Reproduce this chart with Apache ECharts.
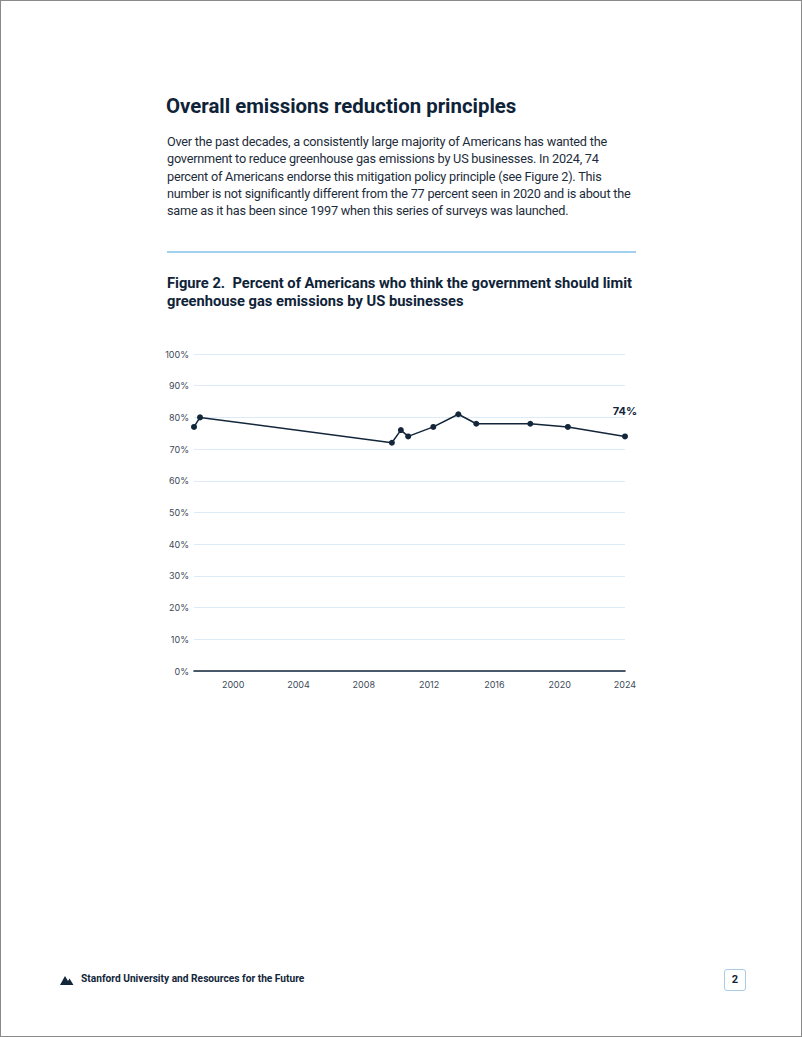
<!DOCTYPE html>
<html>
<head>
<meta charset="utf-8">
<script src="https://cdn.jsdelivr.net/npm/echarts@6/dist/echarts.min.js"></script>
<style>
  html, body { margin: 0; padding: 0; background: #fff; }
  #page { position: relative; width: 802px; height: 1037px; box-sizing: border-box; border: 1px solid #8a8a8a; overflow: hidden; font-family: Roboto, Inter, sans-serif; color: #13263a; }
  .abs { position: absolute; white-space: nowrap; }
  #h1 { left: 165px; top: 92px; font-size: 20.4px; font-weight: 700; line-height: 26px; color: #0f2338; }
  #para { left: 166px; top: 132px; font-size: 12.7px; letter-spacing: -0.22px; line-height: 17.25px; color: #1d2c3b; }
  #rule { left: 166px; top: 250px; width: 469px; height: 2px; background: #a3d0ef; }
  #figt { left: 166px; top: 274px; font-size: 14.7px; font-weight: 700; line-height: 17.5px; color: #0f2338; }
  #chart { left: 150px; top: 330px; width: 500px; height: 380px; }
  #foot { left: 80px; top: 972px; font-size: 10.2px; font-weight: 700; color: #13263a; }
  #logo { left: 59px; top: 974px; }
  #pnum { left: 723px; top: 968px; width: 20px; height: 20px; border: 1.2px solid #a9cbe6; border-radius: 3px; font-size: 11px; font-weight: 700; text-align: center; line-height: 20px; color: #13263a; }
</style>
</head>
<body>
<div id="page">
  <div class="abs" id="h1">Overall emissions reduction principles</div>
  <div class="abs" id="para">Over the past decades, a consistently large majority of Americans has wanted the<br>government to reduce greenhouse gas emissions by US businesses. In 2024, 74<br>percent of Americans endorse this mitigation policy principle (see Figure 2). This<br>number is not significantly different from the 77 percent seen in 2020 and is about the<br>same as it has been since 1997 when this series of surveys was launched.</div>
  <div class="abs" id="rule"></div>
  <div class="abs" id="figt">Figure 2.&nbsp; Percent of Americans who think the government should limit<br>greenhouse gas emissions by US businesses</div>
  <div class="abs" id="chart"></div>
  <svg class="abs" id="logo" width="16" height="10" viewBox="0 0 16 10"><path d="M0 10 L5 1 L8 6 L9.5 3.5 L13.5 10 Z" fill="#13263a"/></svg>
  <div class="abs" id="foot">Stanford University and Resources for the Future</div>
  <div class="abs" id="pnum">2</div>
</div>
<script>
// Survey timing (decimal year) and percent supporting limits
const surveyYears = [1997.6, 1997.97, 2009.72, 2010.27, 2010.72, 2012.26, 2013.79, 2014.89, 2018.2, 2020.5, 2024.0];
const percentSupport = [77, 80, 72, 76, 74, 77, 81, 78, 78, 77, 74];
const xTickYears = [2000, 2004, 2008, 2012, 2016, 2020, 2024];
const lastLabel = '74%';

const data = surveyYears.map((y, i) => [y, percentSupport[i]]);
const chart = echarts.init(document.getElementById('chart'), null, { renderer: 'svg' });
chart.setOption({
  animation: false,
  grid: { left: 43, right: 26, top: 23, bottom: 40 },
  xAxis: {
    type: 'value', min: 1997.6, max: 2024,
    axisLine: { show: true, lineStyle: { color: '#13263a', width: 1.6 } },
    axisTick: { show: false },
    splitLine: { show: false },
    axisLabel: { customValues: xTickYears, color: '#3c4a58', fontSize: 9, margin: 9, fontFamily: 'Inter', formatter: v => String(v) }
  },
  yAxis: {
    type: 'value', min: 0, max: 100, interval: 10,
    axisLine: { show: false }, axisTick: { show: false },
    splitLine: { lineStyle: { color: '#dcebf7', width: 1 } },
    axisLabel: { formatter: '{value}%', color: '#3c4a58', fontSize: 9, margin: 5, fontFamily: 'Inter' }
  },
  series: [{
    type: 'line', data: data,
    symbol: 'circle', symbolSize: 6,
    lineStyle: { color: '#13263a', width: 1.5 },
    itemStyle: { color: '#13263a' },
    label: {
      show: true, position: 'top', distance: 17,
      formatter: p => p.dataIndex === data.length - 1 ? lastLabel : '',
      fontSize: 11, fontWeight: 'bold', color: '#13263a', fontFamily: 'Inter'
    }
  }]
});
</script>
</body>
</html>
